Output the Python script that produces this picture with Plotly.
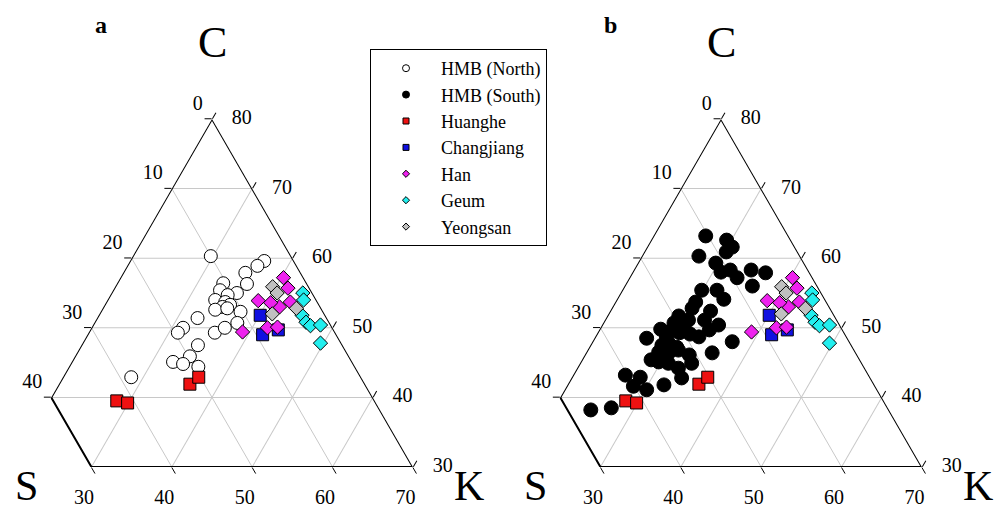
import plotly.graph_objects as go

# ---------------- data (C and K in %, S = 100 - C - K) ----------------
hmb_north_C = [60.3, 59.6, 58.9, 57.9, 56.3, 55.0, 56.4, 55.4, 54.7, 54.0, 53.7, 53.3, 53.0, 52.6,
               52.8, 52.3, 51.4, 50.0, 49.3, 49.3, 50.0, 50.7, 47.5, 45.9, 45.1, 44.8, 44.4, 42.9]
hmb_north_K = [29.7, 36.7, 36.2, 35.2, 36.2, 35.6, 33.2, 33.3, 34.6, 33.4, 34.8, 35.6, 34.8, 34.1,
               35.5, 37.4, 32.5, 31.4, 31.1, 35.7, 36.6, 37.8, 34.5, 34.3, 32.6, 34.0, 36.1, 28.5]

hmb_south_C = [63.2, 62.6, 61.6, 60.9, 60.3, 59.3, 58.0, 58.3, 57.2, 58.3, 57.9, 56.0, 55.4, 55.4,
               54.1, 53.7, 52.8, 52.4, 51.1, 51.1, 51.7, 50.7, 50.1, 49.8, 49.5, 48.5, 48.8, 49.3,
               49.1, 48.7, 47.8, 47.2, 46.5, 46.4, 46.8, 45.1, 44.9, 44.2, 42.8, 44.9, 46.4, 48.0,
               43.2, 42.9, 41.6, 41.1, 41.8, 38.5, 38.2, 47.5, 49.7, 50.4, 45.4, 46.1]
hmb_south_K = [26.5, 29.4, 30.6, 30.2, 27.1, 29.7, 31.0, 32.0, 33.4, 34.6, 36.6, 35.9, 29.9, 31.8,
               33.3, 30.0, 30.0, 32.5, 32.4, 30.4, 28.9, 28.8, 30.3, 27.6, 29.0, 26.5, 28.8, 30.2,
               31.6, 32.9, 29.6, 30.9, 29.0, 30.3, 31.3, 29.7, 31.0, 32.6, 33.7, 33.9, 35.7, 37.4,
               26.5, 28.5, 28.3, 30.2, 32.0, 27.1, 24.7, 28.9, 33.7, 34.5, 28.6, 33.0]

huanghe_C = [39.5, 39.2, 41.9, 42.9]
huanghe_K = [28.4, 29.9, 36.3, 36.9]

changjiang_C = [51.8, 49.0, 49.7]
changjiang_K = [40.1, 41.8, 43.4]

han_C = [57.2, 55.7, 53.9, 53.0, 49.4, 50.0, 50.1, 53.7, 53.6]
han_K = [40.3, 41.6, 38.8, 41.9, 39.1, 41.9, 43.1, 42.9, 40.5]

geum_C = [55.0, 54.0, 51.8, 50.8, 50.3, 50.4, 47.8]
geum_K = [43.8, 44.4, 45.3, 46.3, 47.1, 48.3, 49.6]

yeongsan_C = [55.9, 52.0, 52.8, 55.0]
yeongsan_K = [39.6, 41.5, 44.1, 40.6]

# axis tick labels as printed (left: S along C-levels, bottom: K, right: C)
left_C = [80, 70, 60, 50, 40]
left_text = ["0", "10", "20", "30", "40"]
bottom_K = [30, 40, 50, 60, 70]
bottom_text = ["30", "40", "50", "60", "70"]
right_C = [80, 70, 60, 50, 40, 30]
right_text = ["80", "70", "60", "50", "40", "30"]

# axis ranges: C 30-80, S 0-40 (truncated), K 20-70
C_MIN, S_MIN, K_MIN, S_MAX = 30, 0, 20, 40

SERIF = "Liberation Serif"
NB = "\u00a0"


def S_of(C, K):
    return [100 - c - k for c, k in zip(C, K)]


fig = go.Figure()

styles = {
    "HMB (North)": dict(symbol="circle", color="white", size=13, lsize=7),
    "HMB (South)": dict(symbol="circle", color="black", size=14, lsize=7),
    "Huanghe": dict(symbol="square", color="#ee1111", size=12, lsize=6),
    "Changjiang": dict(symbol="square", color="#1010e0", size=12, lsize=6),
    "Han": dict(symbol="diamond", color="#ee22ee", size=11, lsize=5.5),
    "Geum": dict(symbol="diamond", color="#22eeee", size=11, lsize=5.5),
    "Yeongsan": dict(symbol="diamond", color="#c0c0c0", size=11, lsize=5.5),
}


def add_frame(sub):
    # outline of the truncated triangle (S limited to 40)
    top = (100 - S_MIN - K_MIN, S_MIN, K_MIN)
    a = [top[0], 100 - S_MAX - K_MIN, C_MIN, C_MIN, top[0]]
    b = [top[1], S_MAX, S_MAX, S_MIN, top[1]]
    c = [top[2], K_MIN, 100 - C_MIN - S_MAX, 100 - C_MIN - S_MIN, top[2]]
    fig.add_trace(go.Scatterternary(
        a=a, b=b, c=c, mode="lines", line=dict(color="black", width=2),
        cliponaxis=False, hoverinfo="skip", showlegend=False, subplot=sub))

    tf = dict(family=SERIF, size=20, color="black")
    # left labels (S values on the C gridline levels)
    fig.add_trace(go.Scatterternary(
        a=left_C, b=[100 - c - K_MIN for c in left_C], c=[K_MIN] * len(left_C),
        mode="markers+text", text=[t + NB for t in left_text], textposition="top left",
        textfont=tf, marker=dict(size=5, opacity=0), cliponaxis=False,
        hoverinfo="skip", showlegend=False, subplot=sub))
    # right labels (C values)
    fig.add_trace(go.Scatterternary(
        a=right_C, b=[S_MIN] * len(right_C), c=[100 - c - S_MIN for c in right_C],
        mode="markers+text", text=right_text, textposition="middle right",
        textfont=tf, marker=dict(size=30, opacity=0), cliponaxis=False,
        hoverinfo="skip", showlegend=False, subplot=sub))
    # bottom labels (K values)
    fig.add_trace(go.Scatterternary(
        a=[C_MIN] * len(bottom_K), b=[100 - C_MIN - k for k in bottom_K], c=bottom_K,
        mode="markers+text", text=[t + NB * 3 for t in bottom_text], textposition="bottom center",
        textfont=tf, marker=dict(size=33, opacity=0), cliponaxis=False,
        hoverinfo="skip", showlegend=False, subplot=sub))


def add_series(name, C, K, sub):
    st = styles[name]
    fig.add_trace(go.Scatterternary(
        a=C, b=S_of(C, K), c=K, mode="markers", name=name, subplot=sub,
        showlegend=False, cliponaxis=False,
        marker=dict(symbol=st["symbol"], size=st["size"], color=st["color"],
                    line=dict(color="black", width=1))))


add_frame("ternary")
add_frame("ternary2")

add_series("HMB (North)", hmb_north_C, hmb_north_K, "ternary")
add_series("HMB (South)", hmb_south_C, hmb_south_K, "ternary2")
for sub in ["ternary", "ternary2"]:
    add_series("Huanghe", huanghe_C, huanghe_K, sub)
    add_series("Changjiang", changjiang_C, changjiang_K, sub)
    add_series("Han", han_C, han_K, sub)
    add_series("Geum", geum_C, geum_K, sub)
    add_series("Yeongsan", yeongsan_C, yeongsan_K, sub)

# legend entries (small symbols like the original)
for name, st in styles.items():
    fig.add_trace(go.Scatterternary(
        a=[None], b=[None], c=[None], mode="markers", name=name, subplot="ternary",
        marker=dict(symbol=st["symbol"], size=st["lsize"], color=st["color"],
                    line=dict(color="black", width=1)),
        showlegend=True))

axis_common = dict(
    showline=False, gridcolor="#c8c8c8", gridwidth=1,
    ticks="outside", ticklen=7, tickcolor="black", tickwidth=1.2,
    showticklabels=False, layer="below traces", title=dict(text=""), tickmode="array",
)


def tern(domx):
    return dict(
        sum=100, bgcolor="white",
        domain=dict(x=domx, y=[0.0861, 0.7671]),
        aaxis=dict(min=C_MIN, tickvals=left_C, **axis_common),
        baxis=dict(min=S_MIN, tickvals=[100 - C_MIN - k for k in bottom_K], **axis_common),
        caxis=dict(min=K_MIN, tickvals=[100 - c for c in right_C], **axis_common),
    )


ann = []
for x0, letter in [(0.0, "a"), (0.509, "b")]:
    common = dict(xref="paper", yref="paper", showarrow=False, xanchor="center")
    ann.append(dict(text="<b>%s</b>" % letter, x=0.101 + x0, y=1 - 25 / 511, yanchor="middle",
                    font=dict(family=SERIF, size=24, color="black"), **common))
    ann.append(dict(text="C", x=0.212 + x0, y=1 - 42 / 511, yanchor="middle",
                    font=dict(family=SERIF, size=44, color="black"), **common))
    ann.append(dict(text="S", x=0.026 + x0, y=0, yanchor="bottom",
                    font=dict(family=SERIF, size=42, color="black"), **common))
    ann.append(dict(text="K", x=0.469 + x0, y=0, yanchor="bottom",
                    font=dict(family=SERIF, size=42, color="black"), **common))

fig.update_layout(
    width=1000, height=511,
    margin=dict(l=0, r=0, t=0, b=0),
    paper_bgcolor="white", plot_bgcolor="white",
    ternary=tern([0.002, 0.422]),
    ternary2=tern([0.511, 0.931]),
    annotations=ann,
    showlegend=True,
    legend=dict(x=0.370, y=1 - 49 / 511, xanchor="left", yanchor="top",
                bordercolor="black", borderwidth=1, bgcolor="white",
                font=dict(family=SERIF, size=18, color="black"),
                itemwidth=60, traceorder="normal"),
    font=dict(family=SERIF),
)

fig.write_html("out.html")
